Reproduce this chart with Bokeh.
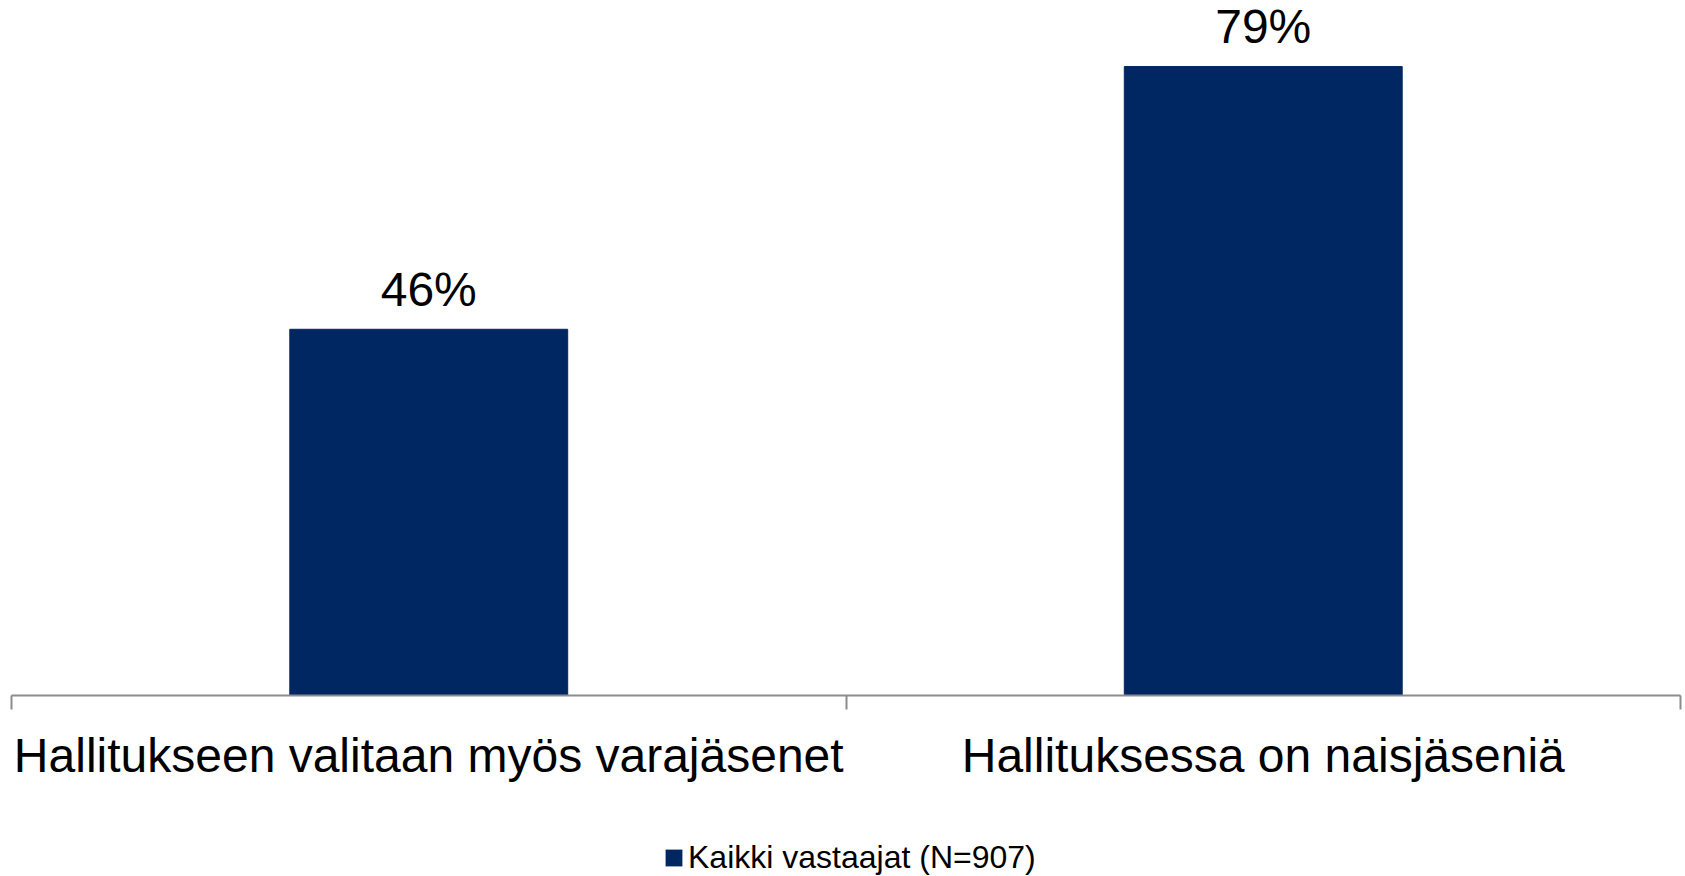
from bokeh.plotting import figure
from bokeh.models import Range1d, FixedTicker, Legend, LegendItem
from bokeh.layouts import column
from bokeh.core.properties import value
from bokeh.embed import file_html
from bokeh.resources import INLINE

categories = ["Hallitukseen valitaan myös varajäsenet", "Hallituksessa on naisjäseniä"]
values = [46, 79]
value_labels = ["46%", "79%"]
series_name = "Kaikki vastaajat (N=907)"

FONT = "Liberation Sans"
BAR = "#002762"
AXIS = "#8c8c8c"

n = len(categories)
xpos = [i + 0.5 for i in range(n)]

p = figure(width=1685, height=800, output_backend="svg", toolbar_location=None,
           x_range=Range1d(0, n), y_range=Range1d(0, 87.3),
           y_axis_location=None, min_border_left=11, min_border_right=5,
           min_border_top=0, min_border_bottom=105, outline_line_color=None,
           background_fill_color="white", border_fill_color="white")

bars = p.vbar(x=xpos, top=values, width=0.333, fill_color=BAR, line_color=BAR)

p.text(x=xpos, y=values, text=value_labels, text_align="center", text_baseline="alphabetic",
       y_offset=-40, text_font=value(FONT), text_font_size="48px", text_color="black")

ax = p.xaxis[0]
ax.ticker = FixedTicker(ticks=xpos, minor_ticks=list(range(n + 1)))
ax.major_label_overrides = {x: c for x, c in zip(xpos, categories)}
ax.major_tick_out = 0
ax.major_tick_in = 0
ax.minor_tick_out = 14
ax.minor_tick_in = 0
ax.minor_tick_line_color = AXIS
ax.minor_tick_line_width = 2
ax.axis_line_color = AXIS
ax.axis_line_width = 2
ax.major_label_standoff = 19
ax.major_label_text_font = FONT
ax.major_label_text_font_size = "48px"
ax.major_label_text_color = "black"

p.xgrid.visible = False
p.ygrid.visible = False

# legend strip below the chart
p2 = figure(width=1685, height=76, output_backend="svg", toolbar_location=None,
            x_range=Range1d(0, 1), y_range=Range1d(0, 1),
            x_axis_location=None, y_axis_location=None,
            min_border_left=0, min_border_right=0, min_border_top=0, min_border_bottom=0,
            outline_line_color=None, background_fill_color="white", border_fill_color="white")
p2.xgrid.visible = False
p2.ygrid.visible = False
# zero-height proxy bar, only used to draw the legend swatch
legend_bar = p2.vbar(x=[xpos[0]], top=[0], width=0.333, fill_color=BAR, line_color=None)

legend = Legend(items=[LegendItem(label=series_name, renderers=[legend_bar])],
                location=(652, 0), padding=0, margin=0, border_line_color=None,
                background_fill_alpha=0, glyph_width=21, glyph_height=21,
                label_standoff=4, label_text_font=FONT, label_text_font_size="32px",
                label_text_color="black")
p2.add_layout(legend, "center")

layout = column(p, p2, spacing=0)

open("out.html", "w").write(file_html(layout, INLINE))
